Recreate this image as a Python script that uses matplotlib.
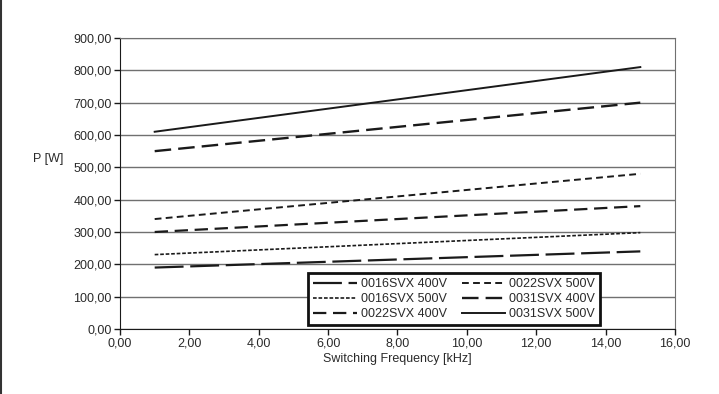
import matplotlib.pyplot as plt
from matplotlib.lines import Line2D
from matplotlib.ticker import FuncFormatter, MultipleLocator

plt.rcParams["font.family"] = ["Liberation Sans", "DejaVu Sans"]
plt.rcParams["font.size"] = 9

# data (kHz -> W)
freq_khz = [1, 15]
p_0016_400 = [190, 240]
p_0016_500 = [230, 298]
p_0022_400 = [300, 380]
p_0022_500 = [340, 480]
p_0031_400 = [550, 700]
p_0031_500 = [610, 810]

series = [
    ("0016SVX 400V", p_0016_400, dict(lw=1.6, dashes=(13, 3))),
    ("0016SVX 500V", p_0016_500, dict(lw=1.2, dashes=(2.2, 1.1))),
    ("0022SVX 400V", p_0022_400, dict(lw=1.6, dashes=(6, 3))),
    ("0022SVX 500V", p_0022_500, dict(lw=1.4, dashes=(3.5, 2.2))),
    ("0031SVX 400V", p_0031_400, dict(lw=1.7, dashes=(7, 3))),
    ("0031SVX 500V", p_0031_500, dict(lw=1.4)),
]

fig = plt.figure(figsize=(7.19, 3.94), dpi=100)
ax = fig.add_axes([0.1669, 0.165, 0.7719, 0.7386])

for name, vals, style in series:
    ax.plot(freq_khz, vals, color="#1a1a1a", label=name, **style)

ax.set_xlim(0, 16)
ax.set_ylim(0, 900)
ax.xaxis.set_major_locator(MultipleLocator(2))
ax.yaxis.set_major_locator(MultipleLocator(100))
comma = FuncFormatter(lambda v, pos: f"{v:.2f}".replace(".", ","))
ax.xaxis.set_major_formatter(comma)
ax.yaxis.set_major_formatter(comma)

ax.grid(axis="y", color="#707070", lw=1)
ax.set_axisbelow(True)
for side in ("top", "right"):
    ax.spines[side].set_color("#707070")
ax.spines["left"].set_color("#1a1a1a")
ax.spines["bottom"].set_color("#1a1a1a")
ax.tick_params(direction="out", length=4, width=1, colors="#1a1a1a",
               labelcolor="#2a2a2a", pad=2)

ax.set_xlabel("Switching Frequency [kHz]", color="#2a2a2a", labelpad=3)
ax.set_ylabel("P [W]", rotation=0, color="#2a2a2a")
ax.yaxis.set_label_coords(-0.13, 0.565)

leg = ax.legend(ncol=2, loc="lower left", bbox_to_anchor=(0.339, 0.014),
                fancybox=False, framealpha=1, edgecolor="#111111",
                handlelength=3.5, handletextpad=0.3, columnspacing=1.2,
                labelspacing=0.22, borderpad=0.4, borderaxespad=0)
leg.get_frame().set_linewidth(2)
for t in leg.get_texts():
    t.set_color("#2a2a2a")

# dark edge on the left side of the picture
fig.add_artist(Line2D([0.001, 0.001], [0, 1], transform=fig.transFigure,
                      color="#333333", lw=1.5))

fig.savefig("out.png", dpi=100)
